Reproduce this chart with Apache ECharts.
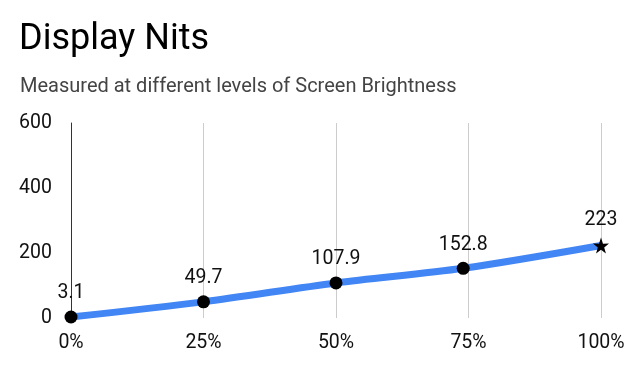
<!DOCTYPE html>
<html>
<head>
<meta charset="utf-8">
<script src="https://cdn.jsdelivr.net/npm/echarts@6/dist/echarts.min.js"></script>
<style>
html,body{margin:0;padding:0;background:#fff;}
#chart{width:633px;height:371px;}
</style>
</head>
<body>
<div id="chart"></div>
<script>
var brightness = [0, 25, 50, 74, 100];
var nits = [3.1, 49.7, 107.9, 152.8, 223];
var xTickValues = [0, 25, 50, 75, 100];
var xTicks = ['0%', '25%', '50%', '75%', '100%'];
var yTicks = [0, 200, 400, 600];

var star = 'path://M50,0 L61.8,35.1 L97.6,34.5 L69.1,56.2 L79.4,90.5 L50,69.8 L20.6,90.5 L30.9,56.2 L2.4,34.5 L38.2,35.1 Z';

var points = brightness.map(function (b, i) {
  var p = { value: [b, nits[i]] };
  if (i === brightness.length - 1) { p.symbol = star; p.symbolSize = 16; }
  return p;
});

var chart = echarts.init(document.getElementById('chart'));
chart.setOption({
  animation: false,
  title: [{
    text: 'Display Nits',
    left: 19,
    top: 22,
    textStyle: { fontFamily: 'Roboto', fontSize: 36, fontWeight: 'normal', color: '#000', lineHeight: 36 },
    padding: 0
  }, {
    text: 'Measured at different levels of Screen Brightness',
    left: 20,
    top: 77,
    textStyle: { fontFamily: 'Roboto', fontSize: 20, fontWeight: 'normal', color: '#444', lineHeight: 20 },
    padding: 0
  }],
  grid: { left: 71, right: 32, top: 123, bottom: 53 },
  xAxis: {
    type: 'value', min: 0, max: 100, interval: 25,
    axisLine: { show: false },
    axisTick: { show: false },
    splitLine: { show: true, lineStyle: { color: '#cccccc', width: 1 } },
    axisLabel: {
      fontFamily: 'Roboto', fontSize: 19.5, color: '#111', margin: 15,
      formatter: function (v) { var k = xTickValues.indexOf(v); return k >= 0 ? xTicks[k] : ''; }
    }
  },
  yAxis: {
    type: 'value', min: 0, max: 600, interval: 200,
    axisLine: { show: true, lineStyle: { color: '#333', width: 1 } },
    axisTick: { show: false },
    splitLine: { show: false },
    axisLabel: {
      fontFamily: 'Roboto', fontSize: 19.5, color: '#111', margin: 19,
      formatter: function (v) { return yTicks.indexOf(v) >= 0 ? String(v) : ''; }
    }
  },
  series: [{
    type: 'line',
    data: points,
    smooth: 0.3,
    lineStyle: { color: '#4285F4', width: 7 },
    symbol: 'circle',
    symbolSize: 13,
    itemStyle: { color: '#000' },
    label: {
      show: true, position: 'top', distance: 7,
      fontFamily: 'Roboto', fontSize: 19.5, color: '#111',
      formatter: function (p) { return String(p.value[1]); }
    },
    z: 3
  }]
});
</script>
</body>
</html>
